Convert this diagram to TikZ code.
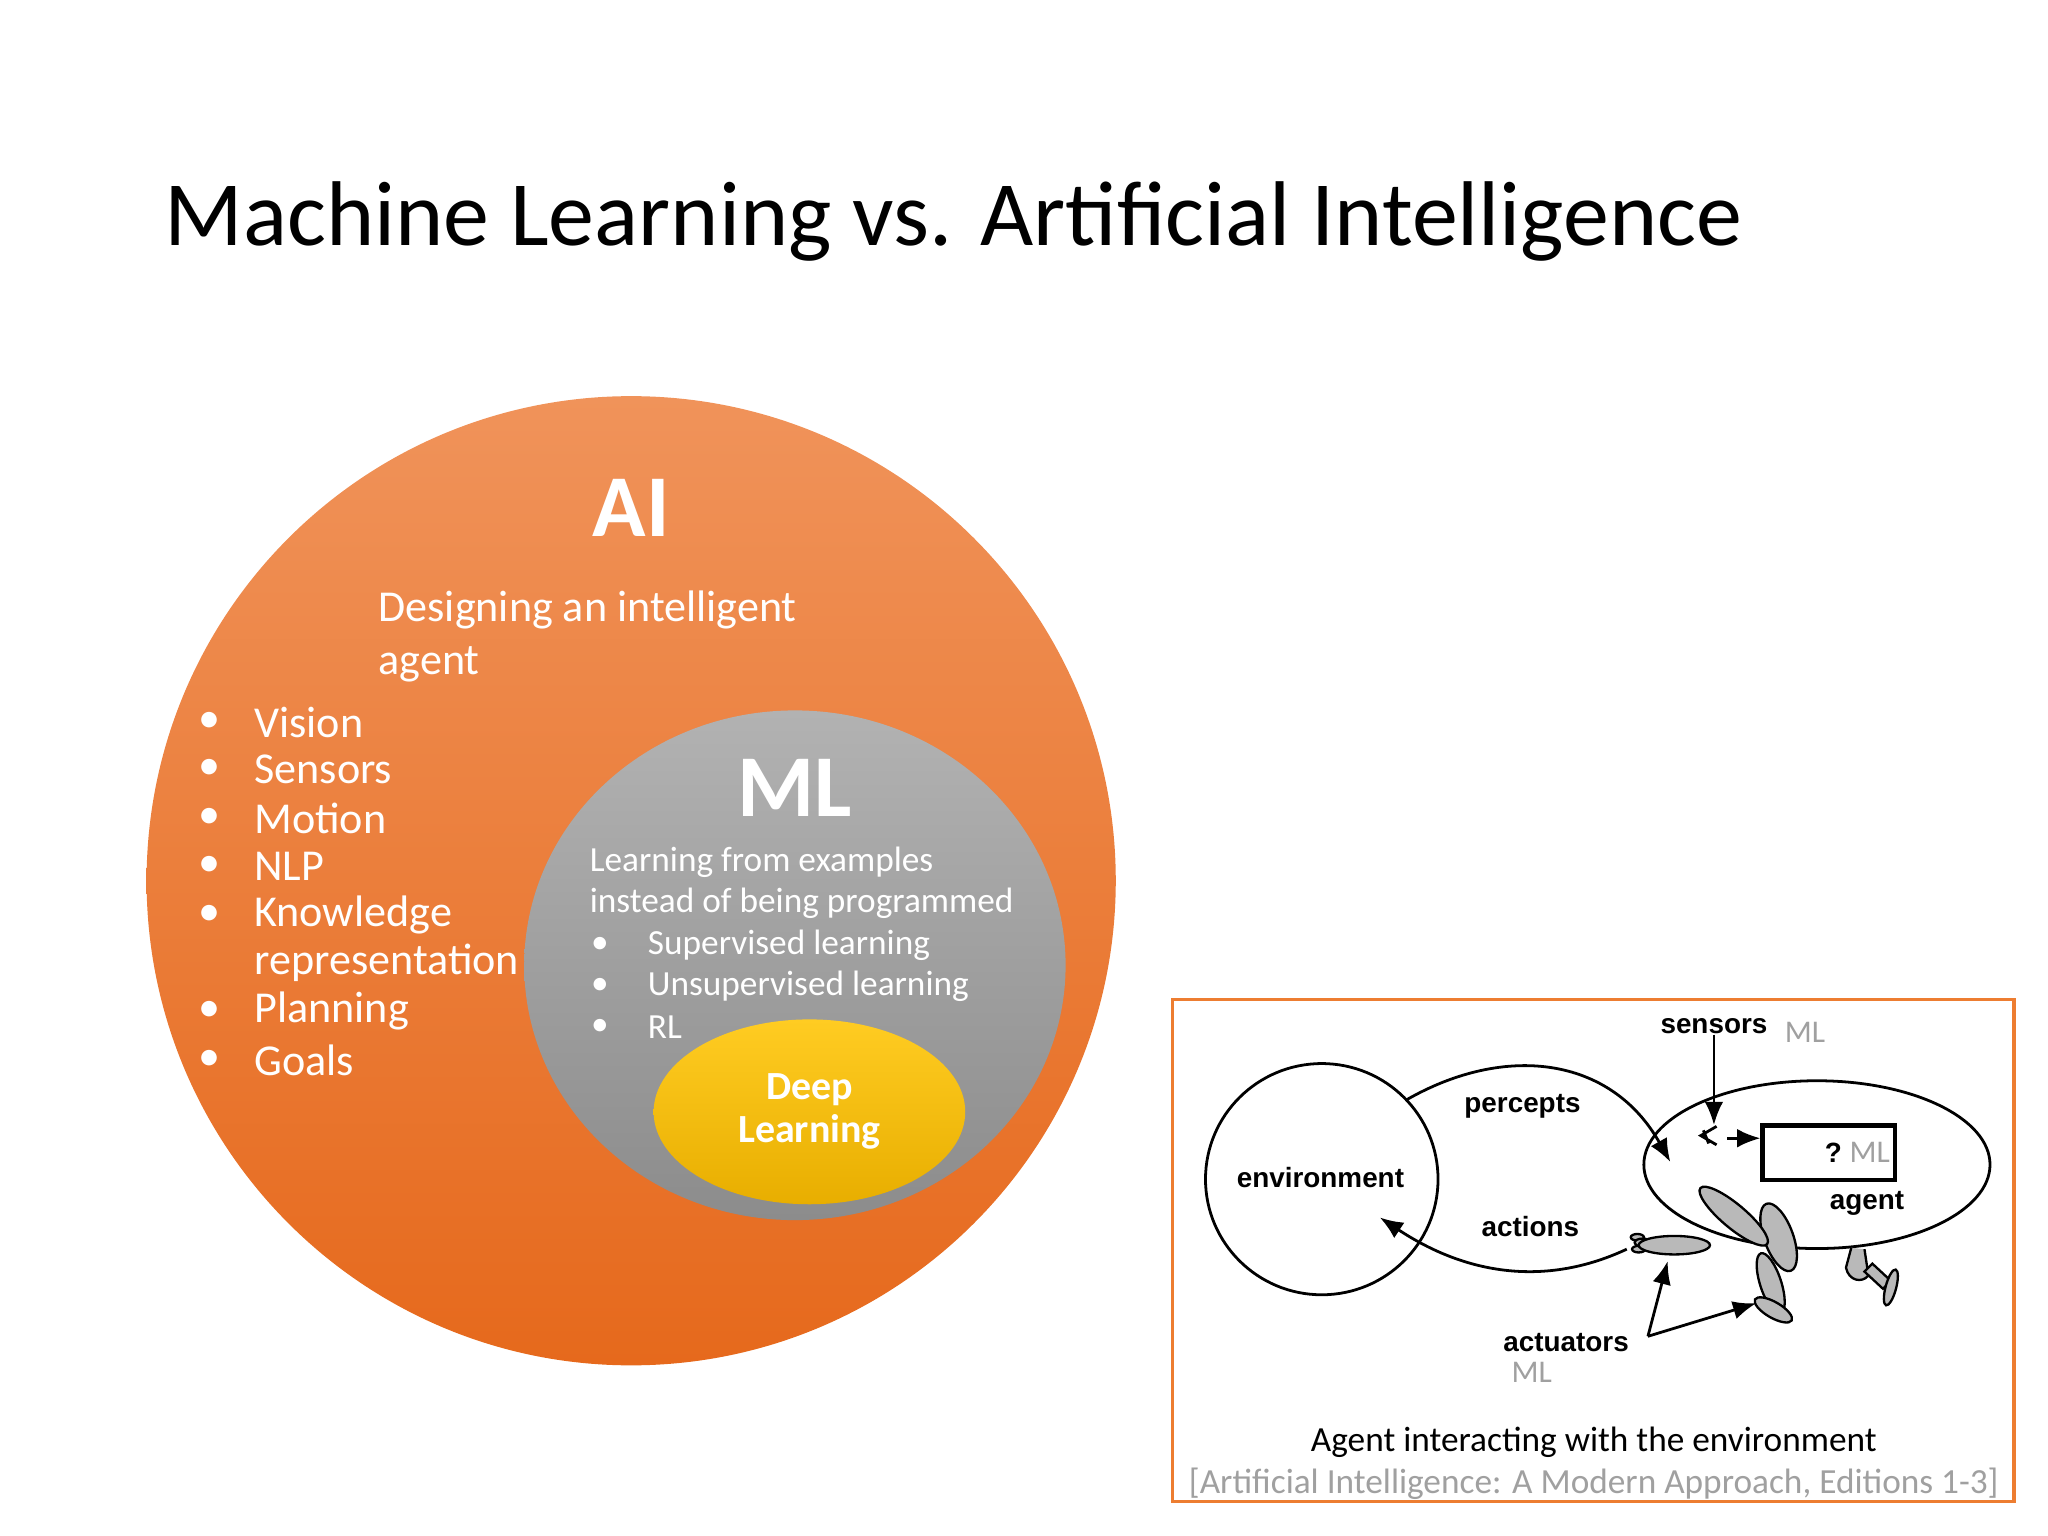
\documentclass[tikz,border=0pt]{standalone}
\usepackage{fontspec}
\setmainfont{Carlito}
\newfontfamily\hv{Liberation Sans}
\usetikzlibrary{shapes.geometric,arrows.meta}
\definecolor{orT}{HTML}{F0935A}\definecolor{orB}{HTML}{E6691C}
\definecolor{gyT}{HTML}{B2B2B2}\definecolor{gyB}{HTML}{8C8C8C}
\definecolor{ylT}{HTML}{FFCC22}\definecolor{ylB}{HTML}{E8AE00}
\definecolor{boxor}{HTML}{ED7D31}\definecolor{mlg}{HTML}{A0A0A0}
\tikzset{
 wt/.style={text=white,anchor=west,inner sep=0pt,font=\fontsize{9.5}{12}\selectfont},
 wts/.style={text=white,anchor=west,inner sep=0pt,font=\fontsize{7.6}{10}\selectfont},
 lab/.style={font=\hv\bfseries\fontsize{6}{7}\selectfont,inner sep=0pt},
 mll/.style={text=mlg,font=\fontsize{6.8}{8}\selectfont,inner sep=0pt},
 limb/.style={draw,fill=gray!55,line width=0.5pt},
 arr/.style={-{Latex[length=5pt,width=4pt]},line width=0.6pt}
}
\begin{document}
\begin{tikzpicture}[x=0.01cm,y=-0.01cm]
\useasboundingbox (0,0) rectangle (1551,1163);
\node[anchor=west,inner sep=0pt,font=\fontsize{19.8}{24}\selectfont] (title) at (124,168) {Machine Learning vs. Artificial Intelligence};
% AI circle
\shade[top color=orT,bottom color=orB] (478,667) circle (367);
\node (ai) at (478,385) [text=white,font=\bfseries\fontsize{19}{22}\selectfont] {AI};
\node[wt] (d1) at (286,462) {Designing an intelligent};
\node[wt] (d2) at (286,503) {agent};
\foreach \y/\t in {547/Vision,583/Sensors,620/Motion,656/NLP,693/Knowledge,766/Planning,803/Goals}{
 \node[wt] at (150,\y) {\textbullet}; \node[wt] at (192,\y) {\t};}
\node[wt] (rep) at (192,729) {representation};
% ML
\shade[top color=gyT,bottom color=gyB] (602,731) ellipse (205 and 193);
\node (ml) at (602,597) [text=white,font=\bfseries\fontsize{19}{22}\selectfont] {ML};
\node[wts] (l1) at (446,653) {Learning from examples};
\node[wts] (l2) at (446,684) {instead of being programmed};
\foreach \y/\t in {716/Supervised learning,747/Unsupervised learning,778/RL}{
 \node[wts] at (447,\y) {\textbullet}; \node[wts] at (490,\y) {\t};}
% DL
\shade[top color=ylT,bottom color=ylB] (613,842) ellipse (118 and 70);
\node (dl) at (613,842) [text=white,align=center,font=\bfseries\fontsize{8.6}{9.3}\selectfont] {Deep\\Learning};
% agent figure box
\draw[boxor,line width=0.8pt] (888,757) rectangle (1525,1137);
\node[draw,ellipse,minimum width=1.76cm,minimum height=1.75cm,inner sep=0pt,line width=0.6pt] (env) at (1001,893) {};
\node[lab] at (1000,892) {environment};
\node[draw,ellipse,minimum width=2.62cm,minimum height=1.27cm,inner sep=0pt,line width=0.6pt] (agent) at (1376,882) {};
\node[lab] at (1414,911) {agent};
\node[draw,line width=1pt,minimum width=1cm,minimum height=0.41cm,inner sep=0pt] (box) at (1385,873) {};
\node[anchor=east,inner sep=0pt] at (1432,873) {\hv\bfseries\fontsize{6}{7}\selectfont ?\ \normalfont\color{mlg}\fontsize{6.8}{8}\selectfont ML};
\node[lab] (sens) at (1298,777) {sensors};
\node[mll] at (1367,782) {ML};
\draw[arr] (sens.south) -- (1298,852);
\draw[line width=0.6pt] (1300,853) -- (1288,860) -- (1300,867) (1290,856)--(1294,866);
\draw[arr] (1308,862) -- (box.west |- 1308,862);
\node[lab] (perc) at (1153,838) {percepts};
\draw[arr] (1065,833) .. controls (1140,790) and (1220,800) .. (1265,880);
\node[lab] (act) at (1159,929) {actions};
\draw[arr] (1232,946) .. controls (1170,975) and (1110,965) .. (1045,922);
% limbs
\draw[limb] (1402,945) -- (1398,960) .. controls (1400,970) and (1410,972) .. (1415,966) -- (1412,946);
\draw[limb] (1412,963) -- (1426,976) -- (1432,970) -- (1418,957) -- cycle;
\draw[limb,rotate around={75:(1432,975)}] (1432,975) ellipse (14 and 4);
\draw[limb,rotate around={-72:(1341,972)}] (1341,972) ellipse (24 and 8);
\draw[limb,rotate around={-70:(1347,937)}] (1347,937) ellipse (27 and 11);
\draw[limb,rotate around={-30:(1343,992)}] (1343,992) ellipse (16 and 6);
\draw[limb] (1240,937) ellipse (5 and 2.5);
\draw[limb] (1241,946) ellipse (5 and 2.5);
\draw[limb] (1244,941) ellipse (6 and 3);
\draw[limb] (1268,943) ellipse (27 and 7);
\draw[limb,rotate around={-40:(1313,921)}] (1313,921) ellipse (33 and 9);
\node[lab] (actu) at (1186,1017) {actuators};
\node[mll] at (1160,1039) {ML};
\draw[arr] (1248,1012) -- (1263,955);
\draw[arr] (1248,1012) -- (1330,987);
\node[inner sep=0pt,font=\fontsize{7.6}{9}\selectfont] (cap) at (1207,1092) {Agent interacting with the environment};
\node[inner sep=0pt,text=mlg,font=\fontsize{7.6}{9}\selectfont] (ref) at (1207,1124) {[Artificial Intelligence: A Modern Approach, Editions 1-3]};
\end{tikzpicture}
\end{document}
